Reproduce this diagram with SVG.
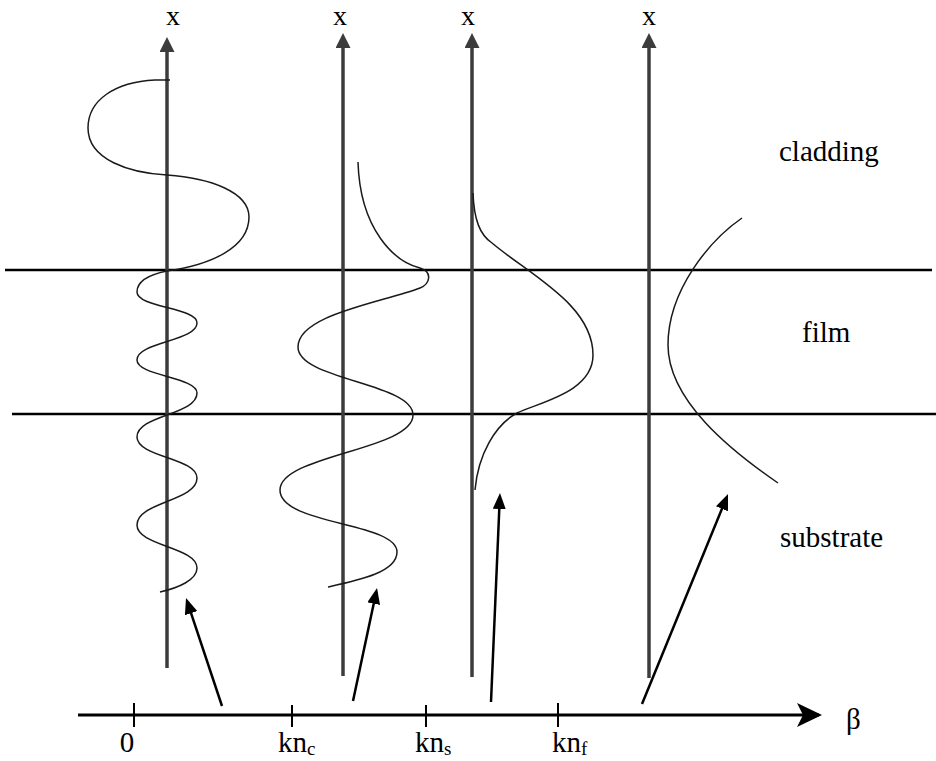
<svg xmlns="http://www.w3.org/2000/svg" width="936" height="761" viewBox="0 0 936 761">
<style>
  .lbl { font-family: "Liberation Serif", "DejaVu Serif", serif; font-size: 29px; fill: #000; }
  .xl { font-size: 28px; }
  .sub { font-size: 19px; }
  .axis { stroke: #3c3c3c; stroke-width: 3.5; fill: none; marker-end: url(#axhead); }
  .layer { stroke: #000; stroke-width: 2.5; fill: none; }
  .mode { stroke: #1a1a1a; stroke-width: 1.5; fill: none; stroke-linejoin: round; }
  .conn { stroke: #000; stroke-width: 2.5; fill: none; marker-end: url(#arrow); }
  .tick { stroke: #000; stroke-width: 2; }
</style>
<defs>
  <marker id="axhead" markerUnits="userSpaceOnUse" markerWidth="15" markerHeight="15" refX="11" refY="7.5" orient="auto" viewBox="0 0 15 15">
    <path d="M0,0 L15,7.5 L0,15 Z" fill="#3c3c3c"/>
  </marker>
  <marker id="arrow" markerUnits="userSpaceOnUse" markerWidth="16" markerHeight="13" refX="12" refY="6.5" orient="auto" viewBox="0 0 16 13">
    <path d="M0,0 L16,6.5 L0,13 Z" fill="#000"/>
  </marker>
  <marker id="betahead" markerUnits="userSpaceOnUse" markerWidth="25" markerHeight="24" refX="22" refY="12" orient="auto" viewBox="0 0 25 24">
    <path d="M0,0 L25,12 L0,24 L6,12 Z" fill="#000"/>
  </marker>
</defs>
<rect width="936" height="761" fill="#fff"/>

<g id="layers">
  <line class="layer" x1="5" y1="270" x2="932" y2="270"/>
  <line class="layer" x1="12" y1="414" x2="936" y2="414"/>
</g>

<g id="region-labels" font-family="Liberation Serif, DejaVu Serif, serif">
  <text class="lbl" x="779" y="161">cladding</text>
  <text class="lbl" x="802" y="342">film</text>
  <text class="lbl" x="780" y="547">substrate</text>
</g>

<g id="axis1" font-family="Liberation Serif, DejaVu Serif, serif">
  <line class="axis" x1="167" y1="668" x2="167" y2="41"/>
  <text class="lbl xl" x="173" y="25" text-anchor="middle">x</text>
  <path class="mode" d="M170,80 L155,80 C115,82 88,100 88,128 C88,160 130,173 167,175 C210,178 249,192 249,217 C249,248 210,265 167,271 C152,274 137,280 137,292 C137,307.5 197,307.5 197,323 C197,341 137,342 137,360 C137,376 197,377 197,393 C197,415 137,415 137,437 C137,457 197,458 197,478 C197,501 137,502 137,525 C137,546 197,547 197,568 C197,580 178,588 160,592"/>
</g>

<g id="axis2" font-family="Liberation Serif, DejaVu Serif, serif">
  <line class="axis" x1="343" y1="676" x2="343" y2="37"/>
  <text class="lbl xl" x="340" y="25" text-anchor="middle">x</text>
  <path class="mode" d="M358,162 C360,230 395,262 420,268 C433,272 430,284 420,288 C380,303 298,315 298,347 C298,380 413,383 413,415 C413,450 280,455 280,490 C280,525 397,522 397,552 C397,572 360,580 328,587"/>
</g>

<g id="axis3" font-family="Liberation Serif, DejaVu Serif, serif">
  <line class="axis" x1="472" y1="677" x2="472" y2="37"/>
  <text class="lbl xl" x="468" y="25" text-anchor="middle">x</text>
  <path class="mode" d="M473,193 C474,220 480,235 492,243 C530,275 593,305 593,355 C593,392 540,402 517,413 C495,425 478,455 475,490"/>
</g>

<g id="axis4" font-family="Liberation Serif, DejaVu Serif, serif">
  <line class="axis" x1="649" y1="678" x2="649" y2="37"/>
  <text class="lbl xl" x="649" y="25" text-anchor="middle">x</text>
  <path class="mode" d="M742,218 C710,240 668,290 668,345 C668,400 730,450 778,483"/>
</g>

<g id="beta-axis" font-family="Liberation Serif, DejaVu Serif, serif">
  <line x1="78" y1="715" x2="819" y2="715" stroke="#000" stroke-width="3" marker-end="url(#betahead)"/>
  <line class="tick" x1="134" y1="703" x2="134" y2="727"/>
  <line class="tick" x1="292" y1="705" x2="292" y2="727"/>
  <line class="tick" x1="426" y1="705" x2="426" y2="727"/>
  <line class="tick" x1="558" y1="703" x2="558" y2="727"/>
  <text class="lbl" x="846" y="729">β</text>
  <text class="lbl" x="127" y="752" text-anchor="middle">0</text>
  <text class="lbl" x="278" y="752">kn<tspan class="sub" dy="3">c</tspan></text>
  <text class="lbl" x="415" y="752">kn<tspan class="sub" dy="3">s</tspan></text>
  <text class="lbl" x="552" y="752">kn<tspan class="sub" dy="3">f</tspan></text>
</g>

<g id="connectors">
  <line class="conn" x1="222" y1="706" x2="187.3" y2="601.8"/>
  <line class="conn" x1="353" y1="701" x2="376.2" y2="591.9"/>
  <line class="conn" x1="491" y1="702" x2="499.8" y2="497"/>
  <line class="conn" x1="642" y1="704" x2="726.5" y2="497.7"/>
</g>
</svg>
